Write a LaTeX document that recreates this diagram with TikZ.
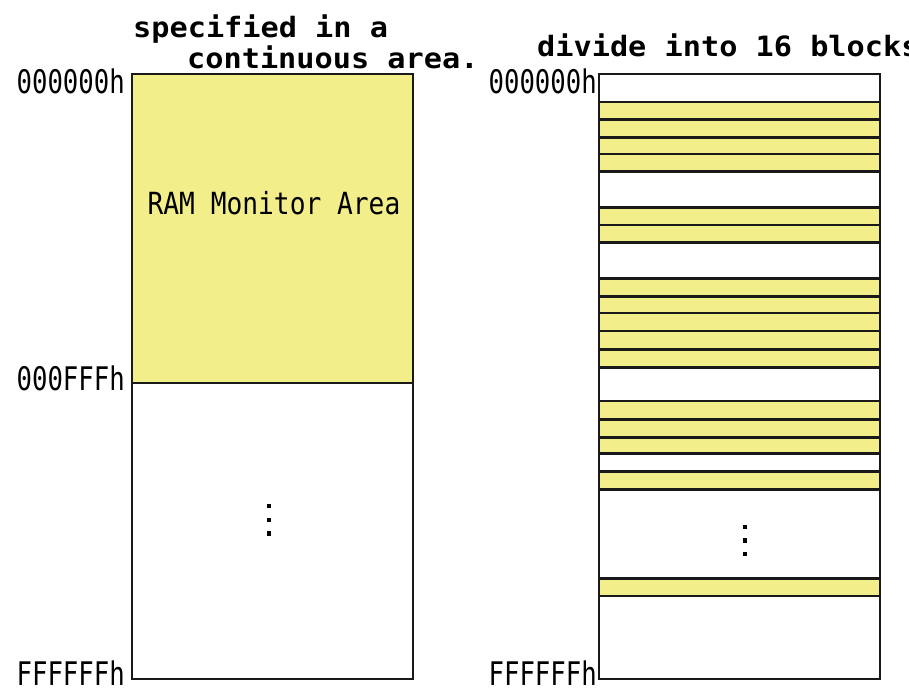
\documentclass[tikz,border=0pt]{standalone}
\usepackage{fontspec}
\newfontfamily\titlefont[FakeStretch=1.08]{DejaVu Sans Mono}
\newfontfamily\labelfont[FakeStretch=0.79]{DejaVu Sans Mono}
\newfontfamily\areafont[FakeStretch=0.86]{DejaVu Sans Mono}
\definecolor{memyellow}{RGB}{242,238,138}
\definecolor{memline}{RGB}{25,25,25}
\tikzset{
  titletext/.style={inner sep=0pt, font=\titlefont\bfseries\fontsize{28}{30}\selectfont},
  addrtext/.style={inner sep=0pt, anchor=base east, font=\labelfont\fontsize{32.5}{34}\selectfont},
  areatext/.style={inner sep=0pt, anchor=base, font=\areafont\fontsize{30.5}{34}\selectfont},
  membox/.style={draw=memline, line width=2.2pt},
  stripe/.style={draw=memline, line width=2.2pt, fill=memyellow},
  dotsq/.style={fill=black, draw=none, minimum size=4.5pt, inner sep=0pt, rectangle},
}
\begin{document}
\begin{tikzpicture}[x=1pt,y=-1pt]
\useasboundingbox (0,0) rectangle (909,691);
\clip (0,0) rectangle (909,691);
% titles
\node[titletext, anchor=base west] (t1a) at (133,37) {specified in a};
\node[titletext, anchor=base west] (t1b) at (187,68) {continuous area.};
\node[titletext, anchor=base west] (t2) at (537,56) {divide into 16 blocks};
% left memory map
\fill[memyellow] (132,74) rectangle (413,383);
\draw[membox] (132,74) rectangle (413,679);
\draw[membox] (132,383) -- (413,383);
\node[areatext] (ram) at (274,214) {RAM Monitor Area};
\node[dotsq] (ld1) at (269,506) {};
\node[dotsq] (ld2) at (269,520) {};
\node[dotsq] (ld3) at (269,533.5) {};
\node[addrtext] (la0) at (125,93) {000000h};
\node[addrtext] (la1) at (125,390) {000FFFh};
\node[addrtext] (la2) at (125,685) {FFFFFFh};
% right memory map
\draw[membox] (599,74) rectangle (880,679);
\foreach \a/\b in {102/119.5,119.5/137.5,137.5/154,154/171.5,
                   207.5/225,225/242.5,
                   278.5/296.5,296.5/313,313/331,331/349.5,349.5/367.5,
                   401/419.5,419.5/437.5,437.5/453.5,
                   471.5/489.5,
                   578.5/596}
  {\draw[stripe] (599,\a) rectangle (880,\b);}
\node[dotsq] (rd1) at (745,527) {};
\node[dotsq] (rd2) at (745,540.5) {};
\node[dotsq] (rd3) at (745,554) {};
\node[addrtext] (ra0) at (597,93) {000000h};
\node[addrtext] (ra2) at (597,685) {FFFFFFh};
\end{tikzpicture}
\end{document}
